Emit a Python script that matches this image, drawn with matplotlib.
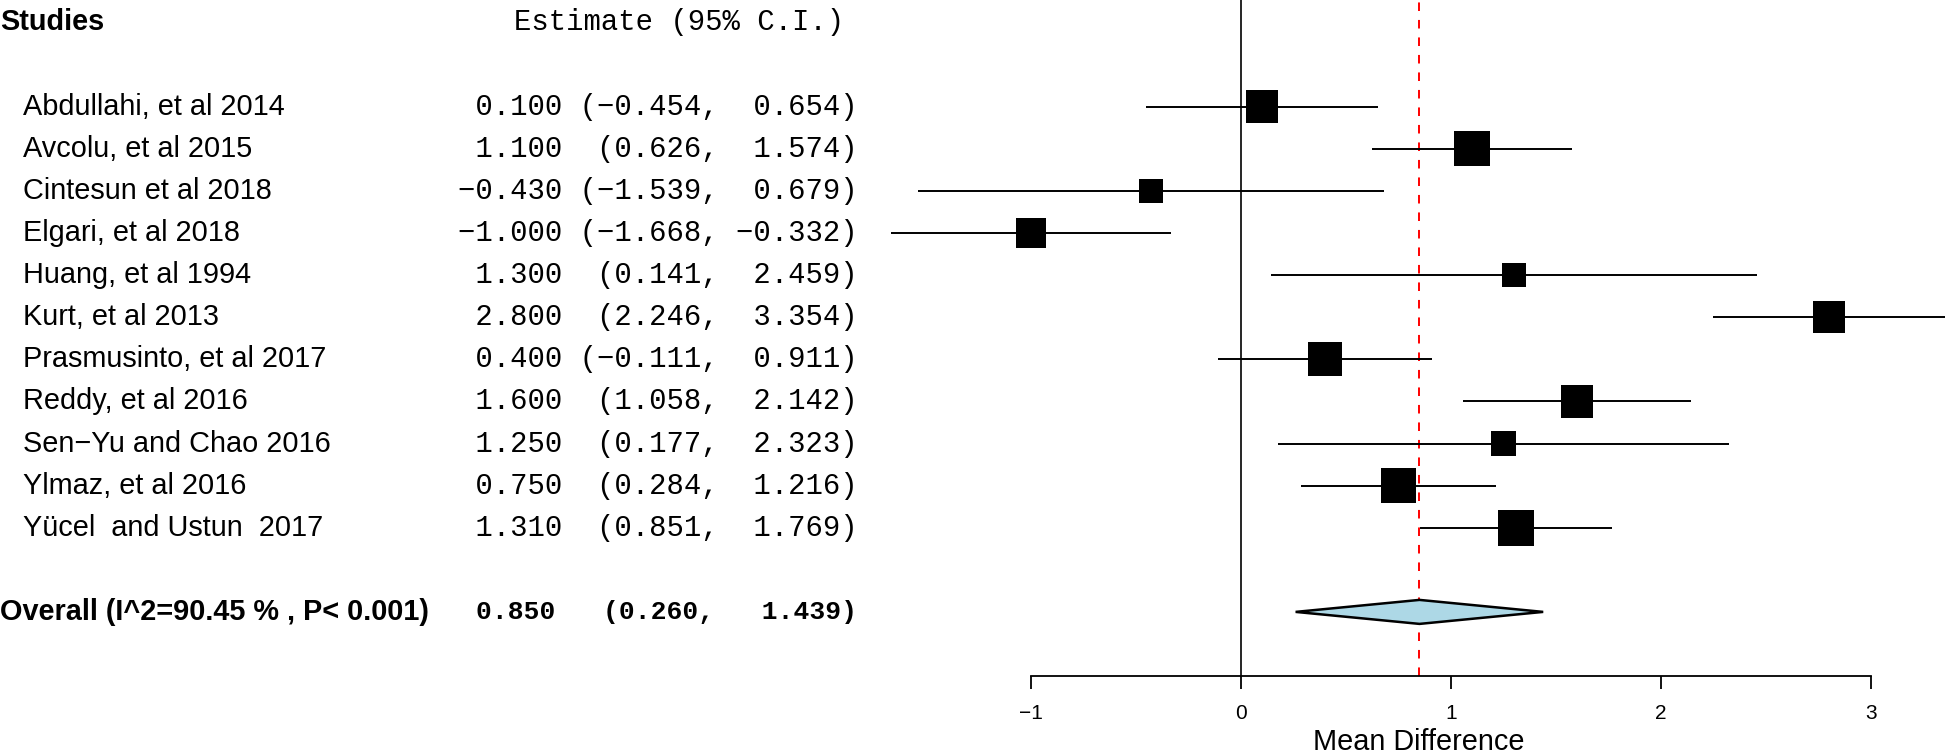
import numpy as np
import matplotlib
matplotlib.use("Agg")
import matplotlib.pyplot as plt
from matplotlib import transforms
from matplotlib.patches import Polygon

# ---------------- data ----------------
studies = ["Abdullahi, et al 2014", "Avcolu, et al 2015", "Cintesun et al 2018",
           "Elgari, et al 2018", "Huang, et al 1994", "Kurt, et al 2013",
           "Prasmusinto, et al 2017", "Reddy, et al 2016", "Sen\u2212Yu and Chao 2016",
           "Ylmaz, et al 2016", "Yücel  and Ustun  2017"]
estimates = [0.100, 1.100, -0.430, -1.000, 1.300, 2.800, 0.400, 1.600, 1.250, 0.750, 1.310]
ci_lower = [-0.454, 0.626, -1.539, -1.668, 0.141, 2.246, -0.111, 1.058, 0.177, 0.284, 0.851]
ci_upper = [0.654, 1.574, 0.679, -0.332, 2.459, 3.354, 0.911, 2.142, 2.323, 1.216, 1.769]
overall_est = 0.850
overall_lower = 0.260
overall_upper = 1.439
overall_label = "Overall (I^2=90.45 % , P< 0.001)"
x_ticks = [-1, 0, 1, 2, 3]
x_label = "Mean Difference"
col_header_left = "Studies"
col_header_right = "Estimate (95% C.I.)"

# ---------------- figure ----------------
plt.rcParams['font.family'] = ['Liberation Sans', 'DejaVu Sans']
MONO = ['Liberation Mono', 'DejaVu Sans Mono']
W, H, DPI = 1947, 754, 100
fig = plt.figure(figsize=(W / DPI, H / DPI), dpi=DPI)

axis_px = 675.5          # y pixel of x-axis line (from top)
row0_px = 106.7          # y pixel of first study row
row_step = 42.1          # pixels per row
zero_px = 1241.0         # x pixel of 0
unit_px = 210.0          # pixels per unit

bottom = (H - axis_px) / H
ax = fig.add_axes([0, bottom, 1, 1 - bottom])
ax.set_xlim(-zero_px / unit_px, (W - zero_px) / unit_px)
ax.set_ylim((axis_px - row0_px) / row_step, -row0_px / row_step)

n = len(studies)
rows = np.arange(n)
overall_row = n + 1
header_row = -2

# reference lines
ax.axvline(0, color='black', lw=1.2, zorder=1)
ax.axvline(overall_est, color='red', lw=1.4, dashes=(4.4, 4.6), zorder=1)

# CI lines
ax.hlines(rows, ci_lower, ci_upper, color='black', lw=1.4, zorder=2)

# squares sized by precision
est = np.array(estimates)
prec = 3.92 / (np.array(ci_upper) - np.array(ci_lower))
side_pt = (15.3 + 4.84 * prec) * 72 / DPI
ax.scatter(est, rows, marker='s', s=side_pt ** 2, color='black', linewidths=0, zorder=3)

# diamond
hh = 0.285
diamond = Polygon([(overall_lower, overall_row), (overall_est, overall_row - hh),
                   (overall_upper, overall_row), (overall_est, overall_row + hh)],
                  closed=True, facecolor='#ADD8E6', edgecolor='black', lw=1.8, zorder=3)
ax.add_patch(diamond)

# axis styling
for s in ['top', 'left', 'right']:
    ax.spines[s].set_visible(False)
ax.spines['bottom'].set_bounds(x_ticks[0], x_ticks[-1])
ax.spines['bottom'].set_linewidth(1.3)
ax.set_xticks(x_ticks)
ax.set_xticklabels([str(t).replace('-', '\u2212') for t in x_ticks])
ax.tick_params(axis='x', length=9.4, width=1.3, pad=11.0, labelsize=15)
ax.set_yticks([])
ax.patch.set_alpha(0)

# text columns
tr = transforms.blended_transform_factory(fig.transFigure, ax.transData)
fs = 20.8
ax.text(0 / W, header_row, col_header_left, transform=tr, ha='left', va='center',
        fontsize=fs, fontweight='bold')
ax.text(679 / W, header_row, col_header_right, transform=tr, ha='center', va='center',
        fontsize=fs, family=MONO)


def ci_text(e, lo, hi, sep=" "):
    lo_part = "(" + f"{lo:.3f}" + ","
    return f"{e:6.3f}{sep}{lo_part:>8}{sep}{hi:6.3f})".replace('-', '\u2212')


for i, name in enumerate(studies):
    ax.text(23 / W, rows[i], name, transform=tr, ha='left', va='center', fontsize=fs)
    ax.text(858 / W, rows[i], ci_text(estimates[i], ci_lower[i], ci_upper[i]),
            transform=tr, ha='right', va='center', fontsize=fs, family=MONO)
ax.text(0 / W, overall_row, overall_label, transform=tr, ha='left', va='center',
        fontsize=fs, fontweight='bold')
s = f"{overall_est:.3f}   ({overall_lower:.3f},   {overall_upper:.3f})"
ax.text(857 / W, overall_row, s, transform=tr, ha='right', va='center', fontsize=19,
        fontweight='bold', family=MONO)

fig.text(1419 / W, 4 / H, x_label, ha='center', va='baseline', fontsize=fs)

fig.savefig('out.png', dpi=DPI)
